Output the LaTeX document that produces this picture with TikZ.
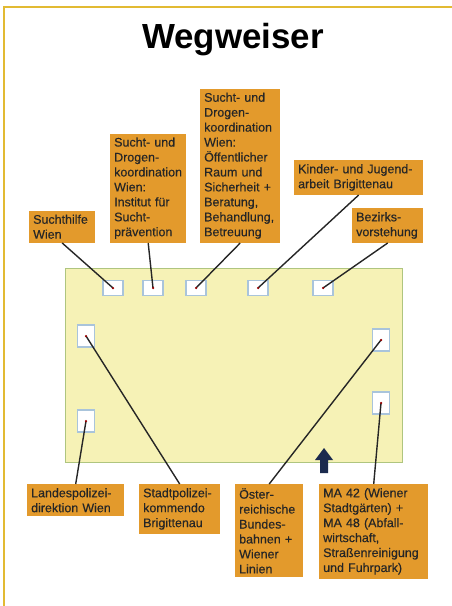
\documentclass[tikz,border=0pt]{standalone}
\usepackage{fontspec}
\setmainfont{Liberation Sans}
\newfontfamily\lblfont[FakeBold=0.35]{Liberation Sans}
\begin{document}
\begin{tikzpicture}[x=1bp,y=-1bp,
  lbl/.style={fill=boxorange, inner sep=4bp, align=left, font=\lblfont\fontsize{12.5}{15}\selectfont, text=black!85},
  spot/.style={draw=sqblue, fill=white, line width=1.3bp, minimum width=20bp, minimum height=15bp, inner sep=0pt},
  sidespot/.style={spot, minimum width=17bp, minimum height=22bp},
  conn/.style={draw=black!85, line width=1.4bp},
  tipdot/.style={fill=red!60!black, circle, inner sep=0pt, minimum size=2.5bp}
]
\definecolor{boxorange}{HTML}{E39A2C}
\definecolor{sqblue}{HTML}{A9C4DB}
\definecolor{framegold}{HTML}{E2BA32}
\definecolor{areafill}{HTML}{F6F2B6}
\definecolor{areaedge}{HTML}{AFC57F}
\definecolor{navy}{HTML}{1B2A4E}
\useasboundingbox (0,0) rectangle (452,606);
\fill[white] (0,0) rectangle (452,606);
% frame
\draw[framegold, line width=2bp] (4,606) -- (4,7) -- (452,7);
% title
\node[font=\bfseries\fontsize{35}{40}\selectfont] (title) at (233,40) {Wegweiser};
% area
\node[draw=areaedge, fill=areafill, line width=1.2bp, minimum width=337bp, minimum height=194bp, inner sep=0pt, anchor=north west] (area) at (65,268) {};
% arrow
\fill[navy] (324,448) -- (333,460) -- (328,460) -- (328,473) -- (320,473) -- (320,460) -- (315,460) -- cycle;
% spots
\node[spot] (s1) at (113,288) {};
\node[spot] (s2) at (153,288) {};
\node[spot] (s3) at (196,288) {};
\node[spot] (s4) at (258,288) {};
\node[spot] (s5) at (323,288) {};
\node[sidespot] (s6) at (86,336) {};
\node[sidespot] (s7) at (86,421) {};
\node[sidespot] (s8) at (381,340) {};
\node[sidespot] (s9) at (381,403) {};
% labels top
\node[lbl, text width=58bp, anchor=south west] (b1) at (29,243) {Suchthilfe\\Wien};
\node[lbl, text width=68bp, anchor=south west] (b2) at (110,243) {Sucht- und\\Drogen-\\koordination\\Wien:\\Institut für\\Sucht-\\prävention};
\node[lbl, text width=72bp, anchor=south west] (b3) at (200,243) {Sucht- und\\Drogen-\\koordination\\Wien:\\Öffentlicher\\Raum und\\Sicherheit +\\Beratung,\\Behandlung,\\Betreuung};
\node[lbl, text width=121bp, anchor=south west] (b4) at (294,195) {Kinder- und Jugend-\\arbeit Brigittenau};
\node[lbl, text width=63bp, anchor=south west] (b5) at (352,243) {Bezirks-\\vorstehung};
% labels bottom
\node[lbl, text width=89bp, anchor=north west] (b6) at (27,484) {Landespolizei-\\direktion Wien};
\node[lbl, text width=73bp, anchor=north west] (b7) at (139,484) {Stadtpolizei-\\kommendo\\Brigittenau};
\node[lbl, text width=60bp, anchor=north west] (b8) at (235,484) {Öster-\\reichische\\Bundes-\\bahnen +\\Wiener\\Linien};
\node[lbl, text width=101bp, anchor=north west] (b9) at (319,484) {MA 42 (Wiener\\Stadtgärten) +\\MA 48 (Abfall-\\wirtschaft,\\Straßenreinigung\\und Fuhrpark)};
% connectors
\foreach \b/\s in {b1/s1,b2/s2,b3/s3,b4/s4,b5/s5}{
  \draw[conn] (\b.south) -- (\s.center);
  \node[tipdot] at (\s.center) {};
}
\foreach \b/\s in {b6/s7,b7/s6,b8/s8,b9/s9}{
  \draw[conn] (\b.north) -- (\s.center);
  \node[tipdot] at (\s.center) {};
}
\end{tikzpicture}
\end{document}
